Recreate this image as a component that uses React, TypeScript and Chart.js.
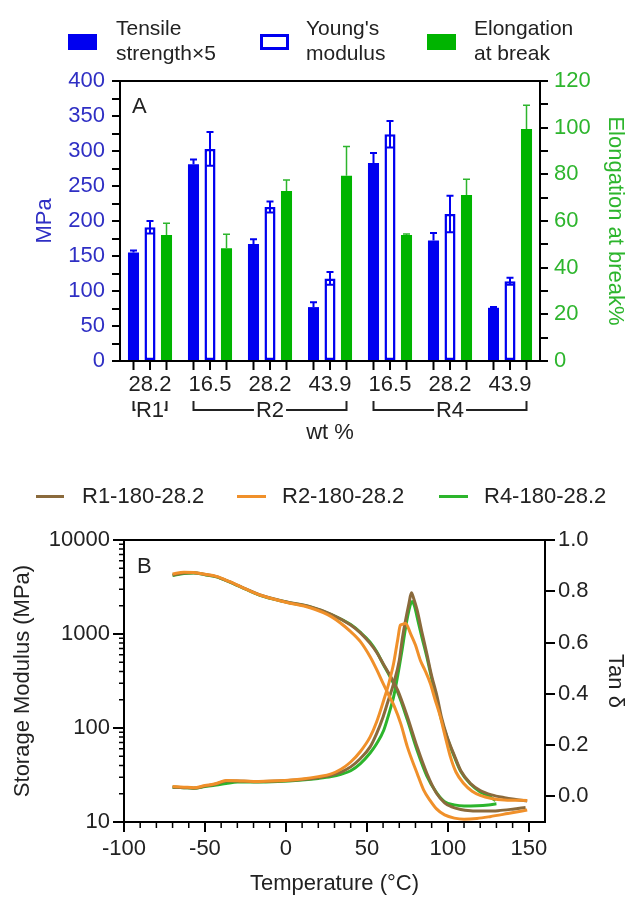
import React, { useEffect, useRef } from 'react';
import { Chart, registerables } from 'chart.js';
Chart.register(...registerables);

const FONT = '"Liberation Sans", Arial, Helvetica, sans-serif';

// ---------- Panel A data ----------
const groupLabels = ['28.2', '16.5', '28.2', '43.9', '16.5', '28.2', '43.9'];
const tensileX5 = [155, 281, 167, 77, 283, 172, 76];
const tensileErr = [3, 7, 7, 7, 14, 11, 1];
const youngsModulus = [191, 303, 220, 118, 324, 210, 114];
const youngsErr = [9, 24, 8, 9, 19, 26, 5];
const elongation = [54, 48.3, 72.9, 79.4, 54, 71.1, 99.4];
const elongationErr = [5, 6, 4.7, 12.5, 0.4, 6.8, 10.2];
const seriesGroupNames = ['R1', 'R2', 'R4'];
const seriesGroupFrom = [0, 1, 4];
const seriesGroupTo = [0, 3, 6];

// ---------- Panel B data ----------
const r1ModT = [-70, -63, -57, -50, -43, -35, -28, -16, 0, 15, 28, 40, 46, 52, 56, 60, 64, 69, 75, 81, 87, 93, 98, 102, 108, 114, 122, 131, 140, 148];
const r1Mod = [4250, 4450, 4490, 4300, 4080, 3600, 3190, 2600, 2200, 1950, 1620, 1250, 1030, 795, 640, 486, 370, 253, 132, 63, 33, 20.2, 16, 14.6, 13.6, 13.2, 13.1, 13.2, 13.7, 14.3];
const r2ModT = [-70, -63, -57, -50, -43, -35, -28, -16, 0, 15, 28, 40, 46, 52, 56, 60, 64, 67, 71, 75, 81, 85, 89, 93, 98, 104, 110, 118, 126, 137, 149];
const r2Mod = [4350, 4550, 4520, 4320, 4100, 3620, 3200, 2600, 2180, 1900, 1530, 1060, 830, 573, 420, 298, 215, 169, 110, 63, 33, 22, 17, 13.8, 11.9, 11.0, 10.7, 10.9, 11.4, 12.3, 13.4];
const r4ModT = [-70, -63, -57, -50, -43, -35, -28, -16, 0, 15, 28, 40, 46, 52, 56, 60, 64, 69, 75, 81, 87, 93, 98, 104, 110, 118, 125, 130];
const r4Mod = [4200, 4400, 4450, 4270, 4050, 3580, 3170, 2580, 2190, 1940, 1610, 1260, 1040, 820, 650, 480, 360, 240, 122, 58, 31, 20.5, 16.4, 15.2, 14.8, 14.9, 15.2, 15.6];

const r1TanT = [-70, -63, -57, -50, -43, -37, -30, -20, -5, 10, 20, 28, 34, 40, 46, 52, 56, 60, 63, 66.5, 70, 72, 76, 77.5, 79, 81, 84, 87, 90, 93.4, 96, 99.6, 104, 108, 114, 120, 127, 135, 142, 149];
const r1Tan = [0.036, 0.034, 0.032, 0.040, 0.048, 0.060, 0.060, 0.057, 0.060, 0.066, 0.073, 0.082, 0.095, 0.115, 0.148, 0.193, 0.245, 0.31, 0.37, 0.44, 0.53, 0.62, 0.753, 0.794, 0.77, 0.727, 0.64, 0.557, 0.47, 0.388, 0.31, 0.232, 0.16, 0.10, 0.05, 0.023, 0.006, -0.005, -0.012, -0.018];
const r2TanT = [-70, -63, -57, -50, -43, -37, -30, -20, -5, 10, 20, 28, 34, 40, 46, 52, 56, 60.4, 63.5, 66.5, 69, 70.7, 72.5, 73.8, 76.9, 80, 83, 86, 89.2, 92, 95.4, 98.5, 101.6, 105, 109.8, 115, 120, 127, 135, 149];
const r2Tan = [0.038, 0.036, 0.034, 0.042, 0.050, 0.062, 0.061, 0.058, 0.061, 0.068, 0.077, 0.088, 0.106, 0.134, 0.175, 0.232, 0.29, 0.375, 0.44, 0.518, 0.61, 0.668, 0.672, 0.675, 0.636, 0.59, 0.531, 0.49, 0.44, 0.38, 0.31, 0.23, 0.154, 0.095, 0.05, 0.02, 0.004, -0.008, -0.014, -0.016];
const r4TanT = [-70, -63, -57, -50, -43, -37, -30, -20, -5, 10, 20, 28, 34, 40, 46, 52, 56, 60.4, 63.5, 66.5, 69, 71.7, 74.5, 77.1, 78, 79.5, 81, 84, 87, 90, 93, 96, 99.6, 104, 108, 114, 120, 125, 129.5];
const r4Tan = [0.036, 0.034, 0.032, 0.038, 0.044, 0.050, 0.056, 0.056, 0.058, 0.064, 0.070, 0.077, 0.086, 0.10, 0.128, 0.169, 0.205, 0.258, 0.32, 0.388, 0.47, 0.57, 0.68, 0.753, 0.76, 0.74, 0.70, 0.62, 0.545, 0.46, 0.38, 0.30, 0.228, 0.155, 0.097, 0.048, 0.017, 0.002, -0.016];

const xTicksB = [-100, -50, 0, 50, 100, 150];
const xMinorB = [-90, -80, -70, -60, -40, -30, -20, -10, 10, 20, 30, 40, 60, 70, 80, 90, 110, 120, 130, 140];
const modTicksB = [10, 100, 1000, 10000];
const modMinorB = [20, 30, 40, 50, 60, 70, 80, 90, 200, 300, 400, 500, 600, 700, 800, 900, 2000, 3000, 4000, 5000, 6000, 7000, 8000, 9000];
const tanTicksB = [0, 0.2, 0.4, 0.6, 0.8, 1.0];

// ---------- styles ----------
const BLUE = '#0000f0';
const BLUE_TEXT = '#2f2fc4';
const GREEN = '#00b400';
const GREEN_TEXT = '#2db52d';
const BROWN = '#8a6a3c';
const ORANGE = '#f0902a';
const LGREEN = '#2cb52c';
const TXT = '#222';
const FS = 22;

const errSets = [tensileErr, youngsErr, elongationErr];

const errorBarPlugin = {
  id: 'errorBars',
  afterDatasetsDraw(chart: any) {
    const ctx = chart.ctx;
    chart.data.datasets.forEach((ds: any, i: number) => {
      const meta = chart.getDatasetMeta(i);
      const scale = chart.scales[ds.yAxisID];
      const hollow = i === 1;
      meta.data.forEach((el: any, j: number) => {
        const v = ds.data[j];
        const e = errSets[i][j];
        const x = el.x;
        const yTop = scale.getPixelForValue(v + e);
        const yBot = hollow ? scale.getPixelForValue(v - e) : el.y;
        ctx.save();
        ctx.strokeStyle = i === 2 ? GREEN_TEXT : BLUE;
        ctx.lineWidth = i === 2 ? 1.5 : 2;
        ctx.beginPath();
        ctx.moveTo(x, yBot);
        ctx.lineTo(x, yTop);
        ctx.moveTo(x - 3.5, yTop);
        ctx.lineTo(x + 3.5, yTop);
        if (hollow) {
          ctx.moveTo(x - 3.5, yBot);
          ctx.lineTo(x + 3.5, yBot);
        }
        ctx.stroke();
        ctx.restore();
      });
    });
  },
};

const barDecorPlugin = {
  id: 'barDecor',
  afterDraw(chart: any) {
    const ctx = chart.ctx;
    const area = chart.chartArea;
    ctx.save();
    ctx.strokeStyle = '#000';
    ctx.lineWidth = 2;
    // top frame
    ctx.beginPath();
    ctx.moveTo(area.left - 1, area.top);
    ctx.lineTo(area.right + 1, area.top);
    ctx.stroke();
    // ticks under each bar
    chart.data.datasets.forEach((_: any, i: number) => {
      chart.getDatasetMeta(i).data.forEach((el: any) => {
        ctx.beginPath();
        ctx.moveTo(el.x, area.bottom);
        ctx.lineTo(el.x, area.bottom + 9);
        ctx.stroke();
      });
    });
    // series brackets
    const m0 = chart.getDatasetMeta(0).data;
    const m2 = chart.getDatasetMeta(2).data;
    ctx.font = `${FS}px ${FONT}`;
    ctx.fillStyle = TXT;
    ctx.textAlign = 'center';
    ctx.textBaseline = 'middle';
    ctx.lineWidth = 2;
    ctx.strokeStyle = '#222';
    const yLine = 410;
    const yUp = 401;
    seriesGroupNames.forEach((name, k) => {
      const x1 = m0[seriesGroupFrom[k]].x;
      const x2 = m2[seriesGroupTo[k]].x;
      const mid = (x1 + x2) / 2;
      const w = ctx.measureText(name).width;
      ctx.fillText(name, mid, yLine + 1);
      ctx.beginPath();
      ctx.moveTo(x1, yUp);
      ctx.lineTo(x1, yLine);
      const l = Math.max(x1 + 2, mid - w / 2 - 2);
      ctx.lineTo(l, yLine);
      ctx.moveTo(x2, yUp);
      ctx.lineTo(x2, yLine);
      const r = Math.min(x2 - 2, mid + w / 2 + 2);
      ctx.lineTo(r, yLine);
      ctx.stroke();
    });
    ctx.restore();
  },
};

const frameBPlugin = {
  id: 'frameB',
  afterDraw(chart: any) {
    const ctx = chart.ctx;
    const area = chart.chartArea;
    const xs = chart.scales.x;
    const ys = chart.scales.y;
    ctx.save();
    ctx.strokeStyle = '#000';
    ctx.lineWidth = 2;
    ctx.beginPath();
    ctx.moveTo(area.left - 1, area.top);
    ctx.lineTo(area.right + 1, area.top);
    ctx.stroke();
    ctx.lineWidth = 1.5;
    ctx.beginPath();
    xMinorB.forEach((v) => {
      const p = xs.getPixelForValue(v);
      ctx.moveTo(p, area.bottom);
      ctx.lineTo(p, area.bottom + 6);
    });
    modMinorB.forEach((v) => {
      const p = ys.getPixelForValue(v);
      ctx.moveTo(area.left - 5, p);
      ctx.lineTo(area.left, p);
    });
    ctx.stroke();
    ctx.restore();
  },
};

const axisGrid = (len: number) => ({
  display: true,
  drawOnChartArea: false,
  drawTicks: true,
  tickLength: len,
  tickColor: '#000',
  tickWidth: 2,
  color: '#000',
  lineWidth: 2,
});
const axisBorder = { display: true, color: '#000', width: 2 };
const font = { size: FS, family: FONT };

const mkLine = (xs: number[], ys: number[], color: string, axis: string, order: number, label: string) => ({
  label,
  data: xs.map((x, i) => ({ x, y: ys[i] })),
  borderColor: color,
  backgroundColor: color,
  borderWidth: 3,
  pointRadius: 0,
  yAxisID: axis,
  order,
  fill: false,
  cubicInterpolationMode: 'monotone',
});

export default function App() {
  const refA = useRef<HTMLCanvasElement>(null);
  const refB = useRef<HTMLCanvasElement>(null);

  useEffect(() => {
    Chart.defaults.font.family = FONT;
    const chartA = new Chart(refA.current as HTMLCanvasElement, {
      type: 'bar',
      data: {
        labels: groupLabels,
        datasets: [
          { label: 'Tensile strength×5', data: tensileX5, backgroundColor: BLUE, borderWidth: 0, yAxisID: 'y' },
          { label: "Young's modulus", data: youngsModulus, backgroundColor: '#ffffff', borderColor: BLUE, borderWidth: 2.5, borderSkipped: false, yAxisID: 'y' },
          { label: 'Elongation at break', data: elongation, backgroundColor: GREEN, borderWidth: 0, yAxisID: 'y1' },
        ] as any,
      },
      options: {
        animation: false,
        responsive: false,
        devicePixelRatio: 1,
        layout: { padding: { top: 81, left: 0, right: 0, bottom: 0 }, autoPadding: false } as any,
        plugins: { legend: { display: false }, tooltip: { enabled: false } },
        datasets: { bar: { categoryPercentage: 0.825, barPercentage: 0.67 } },
        scales: {
          x: {
            type: 'category',
            grid: { display: false, drawTicks: false },
            border: axisBorder,
            ticks: { color: TXT, font, padding: 11, autoSkip: false, maxRotation: 0 },
            title: { display: true, text: 'wt %', color: TXT, font, padding: { top: 0, bottom: 14 } },
            afterFit: (s: any) => { s.height = 99; },
          },
          y: {
            type: 'linear',
            position: 'left',
            min: 0,
            max: 400,
            ticks: { stepSize: 25, autoSkip: false, color: BLUE_TEXT, font, padding: 7, callback: (v: any) => (Number(v) % 50 === 0 ? String(v) : '') },
            grid: axisGrid(8),
            border: axisBorder,
            title: { display: true, text: 'MPa', color: BLUE_TEXT, font, padding: { top: 32, bottom: 0 } },
            afterFit: (s: any) => { s.width = 120; },
          },
          y1: {
            type: 'linear',
            position: 'right',
            min: 0,
            max: 120,
            ticks: { stepSize: 10, autoSkip: false, color: GREEN_TEXT, font, padding: 6, callback: (v: any) => (Number(v) % 20 === 0 ? String(v) : '') },
            grid: axisGrid(8),
            border: axisBorder,
            title: { display: true, text: 'Elongation at break%', color: GREEN_TEXT, font, padding: { top: 2, bottom: 0 } },
            afterFit: (s: any) => { s.width = 90; },
          },
        } as any,
      },
      plugins: [errorBarPlugin, barDecorPlugin],
    });

    const chartB = new Chart(refB.current as HTMLCanvasElement, {
      type: 'line',
      data: {
        datasets: [
          mkLine(r1ModT, r1Mod, BROWN, 'y', 1, 'R1-180-28.2'),
          mkLine(r1TanT, r1Tan, BROWN, 'y1', 1, 'R1-180-28.2 tan'),
          mkLine(r2ModT, r2Mod, ORANGE, 'y', 0, 'R2-180-28.2'),
          mkLine(r2TanT, r2Tan, ORANGE, 'y1', 0, 'R2-180-28.2 tan'),
          mkLine(r4ModT, r4Mod, LGREEN, 'y', 2, 'R4-180-28.2'),
          mkLine(r4TanT, r4Tan, LGREEN, 'y1', 2, 'R4-180-28.2 tan'),
        ] as any,
      },
      options: {
        animation: false,
        responsive: false,
        devicePixelRatio: 1,
        layout: { padding: { top: 100, left: 0, right: 0, bottom: 0 }, autoPadding: false } as any,
        plugins: { legend: { display: false }, tooltip: { enabled: false } },
        scales: {
          x: {
            type: 'linear',
            min: -100,
            max: 160,
            afterBuildTicks: (s: any) => { s.ticks = xTicksB.map((value) => ({ value })); },
            ticks: { color: TXT, font, padding: 4, autoSkip: false, maxRotation: 0, callback: (v: any) => String(v) },
            grid: axisGrid(10),
            border: axisBorder,
            title: { display: true, text: 'Temperature (°C)', color: TXT, font, padding: { top: 0, bottom: 0 } },
            afterFit: (s: any) => { s.height = 75; },
          },
          y: {
            type: 'logarithmic',
            position: 'left',
            min: 10,
            max: 10000,
            afterBuildTicks: (s: any) => { s.ticks = modTicksB.map((value) => ({ value })); },
            ticks: { color: TXT, font, padding: 3, autoSkip: false, callback: (v: any) => String(v) },
            grid: axisGrid(11),
            border: axisBorder,
            title: { display: true, text: 'Storage Modulus (MPa)', color: TXT, font, padding: { top: 10, bottom: 0 } },
            afterFit: (s: any) => { s.width = 124; },
          },
          y1: {
            type: 'linear',
            position: 'right',
            min: -0.1,
            max: 1.0,
            afterBuildTicks: (s: any) => { s.ticks = tanTicksB.map((value) => ({ value })); },
            ticks: { color: TXT, font, padding: 3, autoSkip: false, callback: (v: any) => Number(v).toFixed(1) },
            grid: axisGrid(10),
            border: axisBorder,
            title: { display: true, text: 'Tan δ', color: TXT, font, padding: { top: 2, bottom: 0 } },
            afterFit: (s: any) => { s.width = 85; },
          },
        } as any,
      },
      plugins: [frameBPlugin],
    });

    return () => {
      chartA.destroy();
      chartB.destroy();
    };
  }, []);

  const abs = (left: number, top: number, extra: any = {}) => ({ position: 'absolute' as const, left, top, ...extra });
  const textStyle = { fontFamily: FONT, fontSize: 21, lineHeight: '25px', color: TXT, whiteSpace: 'nowrap' as const };
  const textB = { fontFamily: FONT, fontSize: FS, lineHeight: `${FS}px`, color: TXT, whiteSpace: 'nowrap' as const };

  return (
    <div style={{ position: 'absolute', left: 0, top: 0, width: 630, height: 897, background: '#fff', overflow: 'hidden' }}>
      <canvas ref={refA} width={630} height={460} style={{ position: 'absolute', left: 0, top: 0, width: 630, height: 460 }} />
      <canvas ref={refB} width={630} height={457} style={{ position: 'absolute', left: 0, top: 440, width: 630, height: 457 }} />

      {/* Legend A */}
      <div style={abs(68, 34, { width: 29, height: 16, background: BLUE })} />
      <div style={abs(116, 15, textStyle)}>Tensile<br />strength×5</div>
      <div style={abs(260, 34, { width: 29, height: 16, border: `3px solid ${BLUE}`, boxSizing: 'border-box', background: '#fff' })} />
      <div style={abs(306, 15, textStyle)}>Young's<br />modulus</div>
      <div style={abs(427, 34, { width: 29, height: 16, background: GREEN })} />
      <div style={abs(474, 15, textStyle)}>Elongation<br />at break</div>

      {/* Panel labels */}
      <div style={abs(132, 95, textB)}>A</div>
      <div style={abs(137, 555, textB)}>B</div>

      {/* Legend B */}
      <div style={abs(36, 495, { width: 28, height: 3, background: BROWN })} />
      <div style={abs(82, 485, textB)}>R1-180-28.2</div>
      <div style={abs(237, 495, { width: 29, height: 3, background: ORANGE })} />
      <div style={abs(282, 485, textB)}>R2-180-28.2</div>
      <div style={abs(439, 495, { width: 29, height: 3, background: LGREEN })} />
      <div style={abs(484, 485, textB)}>R4-180-28.2</div>
    </div>
  );
}
